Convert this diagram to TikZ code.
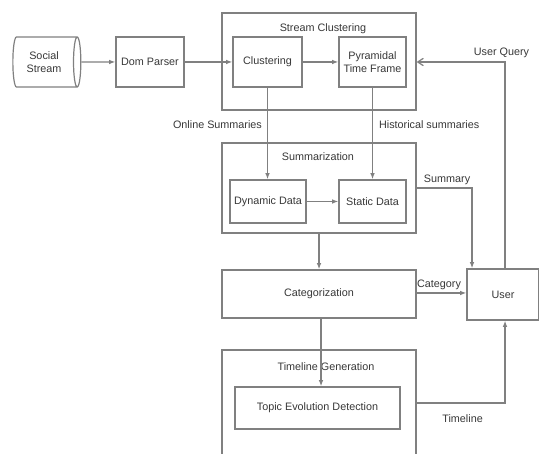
\documentclass[tikz,border=0pt]{standalone}
\usepackage{fontspec}
\setmainfont{Liberation Sans}
\usepackage{xcolor}
\usepackage{tikz}
\usetikzlibrary{positioning,arrows.meta,calc,shapes.geometric}
\definecolor{cLine}{HTML}{808080}
\definecolor{cText}{HTML}{383838}
\tikzset{
  base/.style={draw=cLine,line width=1.2pt,align=center,text=cText,font=\fontsize{10.8}{12.5}\selectfont,inner sep=2pt},
  box/.style={base,rectangle},
  frame/.style={draw=cLine,line width=1.2pt,rectangle,inner sep=0pt},
  ttl/.style={text=cText,font=\fontsize{10.8}{12.5}\selectfont,inner sep=1pt},
  lbl/.style={text=cText,font=\fontsize{10.8}{12.5}\selectfont,inner sep=1pt},
  arr/.style={-{Latex[length=2.2mm,width=1.6mm]},draw=cLine,line width=1.2pt},
  oarr/.style={-{Straight Barb[length=2mm,width=2.6mm]},draw=cLine,line width=1.2pt}}

\begin{document}
\begin{tikzpicture}[x=1pt,y=-1pt]
\useasboundingbox (0,0) rectangle (539,454);
\clip (0,0) rectangle (539,454);
\fill[white] (0,0) rectangle (539,454);
% outer groups
\node[frame, minimum width=194pt, minimum height=97pt] (sclust) at (319,61.5) {};
\node[frame, minimum width=194pt, minimum height=90pt] (summ) at (319,188) {};
\node[frame, minimum width=194pt, minimum height=120pt] (tgen) at (319,410) {};
\node[ttl] (sclustT) at (323,29) {Stream Clustering};
\node[ttl] (summT) at (318,157) {Summarization};
\node[ttl] (tgenT) at (326,367) {Timeline Generation};
% inner nodes
\node[base, cylinder, shape aspect=0.3, minimum width=50pt, minimum height=68pt] (stream) at (44,62) {Social\\Stream};
\node[box, minimum width=68pt, minimum height=50pt] (parser) at (150,62) {Dom Parser};
\node[box, minimum width=69pt, minimum height=50pt] (clust) at (267.5,62) {Clustering};
\node[box, minimum width=67pt, minimum height=50pt] (ptf) at (372.5,62) {Pyramidal\\Time Frame};
\node[box, minimum width=76pt, minimum height=43pt] (dyn) at (268,201.5) {Dynamic Data};
\node[box, minimum width=67pt, minimum height=43pt] (stat) at (372.5,201.5) {Static Data};
\node[box, minimum width=194pt, minimum height=48pt] (categ) at (319,294) {Categorization};
\node[box, minimum width=165pt, minimum height=42pt] (ted) at (317.5,408) {Topic Evolution Detection};
\node[box, minimum width=72pt, minimum height=51pt] (user) at (503,294.5) {User};
% connectors
\draw[arr] (stream) -- (parser);
\draw[arr] (parser) -- (clust);
\draw[arr] (clust) -- (ptf);
\draw[arr] (clust.south) -- node[lbl,pos=0.4,anchor=east,xshift=-4pt]{Online Summaries} (clust.south |- dyn.north);
\draw[arr] (ptf.south) -- node[lbl,pos=0.4,anchor=west,xshift=5pt]{Historical summaries} (ptf.south |- stat.north);
\draw[arr] (dyn) -- (stat);
\draw[arr] (summ.south) -- (categ.north);
\draw[arr] ($(categ.south)+(2,0)$) -- ($(categ.south |- ted.north)+(2,0)$);
\draw[arr] (categ.east |- 0,293) -- node[lbl,above,pos=0.45,yshift=2pt]{Category} (user.west |- 0,293);
\draw[arr] (summ.east |- 0,188) -- node[lbl,above,pos=0.55,yshift=2pt]{Summary} (472,188) -- (472,0 |- user.north);
\draw[arr] (tgen.east |- 0,403) -- node[lbl,below,pos=0.52,yshift=-10pt]{Timeline} (505,403) -- (505,0 |- user.south);
\draw[oarr] (505,0 |- user.north) -- (505,62) -- node[lbl,above,pos=0.04,yshift=3pt]{User Query} (sclust.east |- 0,62);
\end{tikzpicture}
\end{document}
